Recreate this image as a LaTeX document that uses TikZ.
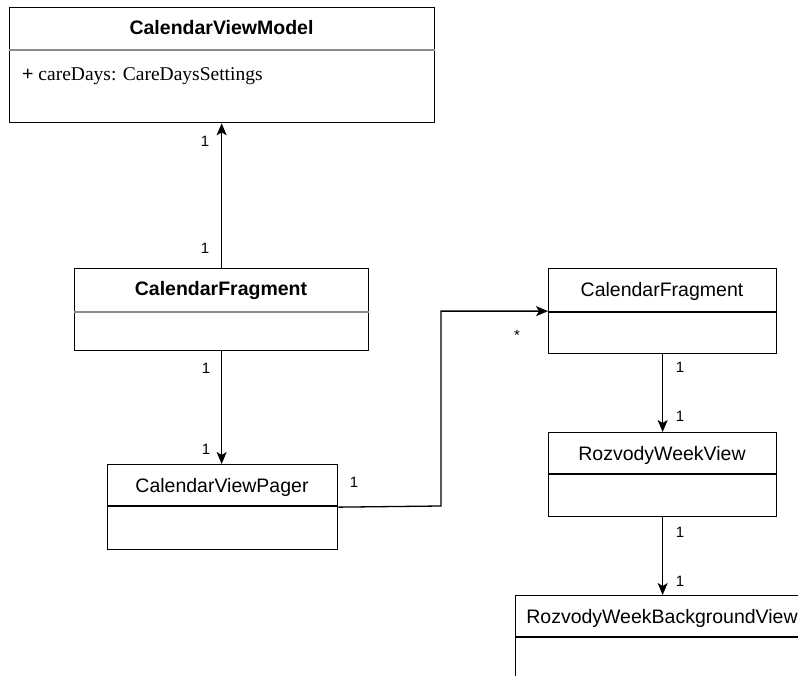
\documentclass[tikz,border=0pt]{standalone}
\usepackage{fontspec}
\setmainfont{Liberation Serif}
\newfontfamily\uisans{Liberation Sans}
\usetikzlibrary{arrows.meta}
\tikzset{
  umlbox/.style={draw=black, line width=1.3pt, fill=white, inner sep=0pt, anchor=north west},
  sepline/.style={draw=black, line width=1.3pt},
  boldsep/.style={draw=black!45, line width=2.2pt},
  title/.style={font=\uisans\fontsize{19.5}{23}\selectfont, inner sep=0pt, anchor=base},
  boldtitle/.style={title, font=\uisans\bfseries\fontsize{19.5}{23}\selectfont},
  attr/.style={font=\fontsize{19.5}{23}\selectfont, inner sep=0pt, anchor=base west},
  mult/.style={font=\uisans\fontsize{15}{18}\selectfont, inner sep=0pt},
  assoc/.style={draw=black, line width=1.3pt, -{Stealth[length=12pt,width=10pt,inset=3pt]}}
}
\begin{document}
\begin{tikzpicture}[x=1pt, y=-1pt]
\useasboundingbox (0,0) rectangle (798,676);
\clip (0,0) rectangle (798,676);
\fill[white] (0,0) rectangle (798,676);

% CalendarViewModel
\node[umlbox, minimum width=425pt, minimum height=115pt] (vm) at (9,7) {};
\draw[boldsep] (9,50) -- (435,50);
\node[boldtitle] (vmt) at (221.5,35) {CalendarViewModel};
\node[attr] (vma) at (22,81) {{\uisans +} careDays: CareDaysSettings};

% CalendarFragment (bold)
\node[umlbox, minimum width=294pt, minimum height=82pt] (fr) at (74,268) {};
\draw[boldsep] (74,312) -- (369,312);
\node[boldtitle] (frt) at (221,296) {CalendarFragment};

% CalendarViewPager
\node[umlbox, minimum width=230pt, minimum height=85pt] (pg) at (107,464) {};
\draw[sepline] (107,506) -- (337,506);
\node[title] (pgt) at (222,492.5) {CalendarViewPager};

% CalendarFragment
\node[umlbox, minimum width=228pt, minimum height=85pt] (cf) at (548,268) {};
\draw[sepline] (548,312) -- (776,312);
\node[title] (cft) at (662,297) {CalendarFragment};

% RozvodyWeekView
\node[umlbox, minimum width=228pt, minimum height=84pt] (wv) at (548,432) {};
\draw[sepline] (548,474) -- (776,474);
\node[title] (wvt) at (662,460) {RozvodyWeekView};

% RozvodyWeekBackgroundView (runs past the page edge)
\node[umlbox, minimum width=294pt, minimum height=130pt] (bg) at (515,595) {};
\draw[sepline] (515,637) -- (809,637);
\node[title] (bgt) at (662,623) {RozvodyWeekBackgroundView};

% associations (vertical ones kept straight)
\draw[assoc] (fr.north) -- (fr.north |- vm.south);
\draw[assoc] (fr.south) -- (fr.south |- pg.north);
\coordinate (bend) at (441,506);
\draw[assoc] (pg.east) -- (bend) |- (cf.west);
\draw[assoc] (cf.south) -- (cf.south |- wv.north);
\draw[assoc] (wv.south) -- (wv.south |- bg.north);

% multiplicities
\node[mult] (m1) at (205,141) {1};
\node[mult] (m2) at (205,248) {1};
\node[mult] (m3) at (206,368) {1};
\node[mult] (m4) at (206,449) {1};
\node[mult] (m5) at (354,482) {1};
\node[mult, anchor=base] (m6) at (517,341) {*};
\node[mult] (m7) at (680,367) {1};
\node[mult] (m8) at (680,416) {1};
\node[mult] (m9) at (680,532) {1};
\node[mult] (m10) at (680,581) {1};
\end{tikzpicture}
\end{document}
